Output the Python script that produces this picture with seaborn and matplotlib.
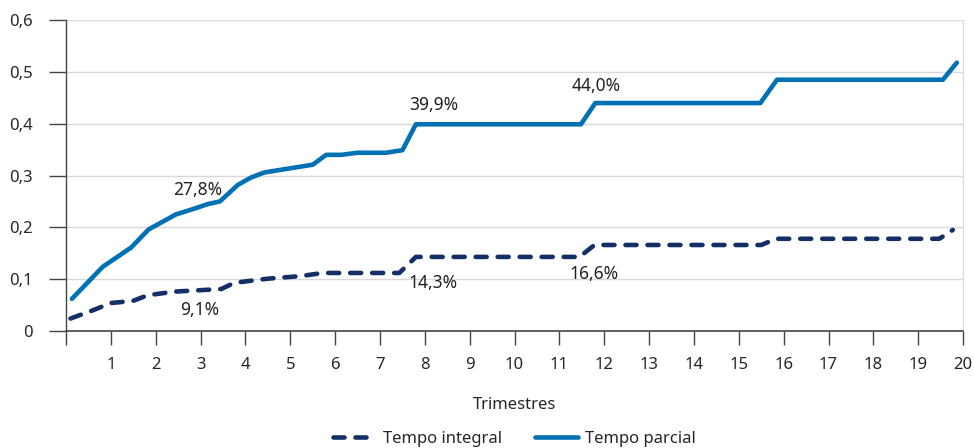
import matplotlib
matplotlib.use("Agg")
import matplotlib.pyplot as plt
import seaborn as sns
import pandas as pd
from matplotlib.ticker import FuncFormatter
from matplotlib.lines import Line2D

# data (x in trimestres, y as share)
integral_x = [0.1, 0.63, 1.0, 1.49, 1.82, 2.42, 3.46, 3.75, 4.5, 5.24, 5.72, 7.43, 7.8, 11.45, 11.78, 15.5, 15.83, 19.47, 19.77]
integral_y = [0.024, 0.041, 0.054, 0.058, 0.069, 0.076, 0.081, 0.093, 0.101, 0.106, 0.112, 0.112, 0.143, 0.143, 0.166, 0.166, 0.178, 0.178, 0.195]

parcial_x = [0.13, 0.82, 1.45, 1.84, 2.45, 2.82, 3.16, 3.43, 3.83, 4.12, 4.42, 5.5, 5.8, 6.13, 6.5, 7.13, 7.5, 7.8, 11.48, 11.8, 15.48, 15.85, 19.55, 19.86]
parcial_y = [0.062, 0.124, 0.161, 0.196, 0.225, 0.235, 0.245, 0.25, 0.282, 0.296, 0.306, 0.321, 0.34, 0.34, 0.344, 0.344, 0.349, 0.399, 0.399, 0.44, 0.44, 0.485, 0.485, 0.518]

# annotations: (text, x, y)
labels = [("27,8%", 2.94, 0.272), ("9,1%", 2.99, 0.04),
          ("39,9%", 8.2, 0.436), ("14,3%", 8.17, 0.093),
          ("44,0%", 11.82, 0.473), ("16,6%", 11.78, 0.11)]

df = pd.concat([
    pd.DataFrame({'Trimestres': integral_x, 'valor': integral_y, 'serie': 'Tempo integral'}),
    pd.DataFrame({'Trimestres': parcial_x, 'valor': parcial_y, 'serie': 'Tempo parcial'}),
], ignore_index=True)

sns.set_style("white")
plt.rcParams['font.family'] = ['Noto Sans', 'DejaVu Sans']

colors = {'Tempo integral': '#142f66', 'Tempo parcial': '#0071b4'}

fig = plt.figure(figsize=(9.74, 4.48), dpi=100)
ax = fig.add_axes([0.0678, 0.2612, 0.921, 0.6938])

sns.lineplot(data=df, x='Trimestres', y='valor', hue='serie', style='serie',
             palette=colors, dashes={'Tempo integral': (2.4, 2.4), 'Tempo parcial': ''},
             linewidth=3.3, ax=ax, legend=False)
for line in ax.get_lines():
    line.set_dash_capstyle('round')
    line.set_solid_capstyle('round')

for txt, x, y in labels:
    ax.text(x, y, txt, ha='center', va='center', fontsize=12.5, color='#222222')

ax.set_xlim(0, 20)
ax.set_ylim(0, 0.6)
ax.set_xticks(range(0, 21))
ax.set_xticklabels([''] + [str(i) for i in range(1, 21)])
ax.set_yticks([0, 0.1, 0.2, 0.3, 0.4, 0.5, 0.6])
ax.yaxis.set_major_formatter(FuncFormatter(lambda v, p: '0' if v == 0 else f'{v:.1f}'.replace('.', ',')))

ax.grid(axis='y', color='#d9d9d9', linewidth=1)
ax.set_axisbelow(True)
ax.spines['top'].set_visible(False)
ax.spines['right'].set_color('#d9d9d9')
ax.spines['left'].set_color('#444444')
ax.spines['bottom'].set_color('#444444')
ax.spines['left'].set_linewidth(1)
ax.spines['bottom'].set_linewidth(1.2)

ax.tick_params(axis='x', direction='out', length=10, width=1, color='#444444', pad=9, labelsize=12)
ax.tick_params(axis='y', direction='out', length=12, width=1, color='#444444', pad=12, labelsize=12)
ax.tick_params(bottom=True, left=True)

ax.set_xlabel('Trimestres', fontsize=12, labelpad=17)
ax.set_ylabel('')

handles = [Line2D([], [], color=colors['Tempo integral'], lw=3.3, dashes=(2.4, 2.4), dash_capstyle='round'),
           Line2D([], [], color=colors['Tempo parcial'], lw=3.3)]
fig.legend(handles, ['Tempo integral', 'Tempo parcial'], loc='center', bbox_to_anchor=(0.528, 0.02),
           ncol=2, frameon=False, fontsize=12, handlelength=2.6, handletextpad=0.4, columnspacing=2.0)

fig.savefig('out.png', dpi=100)
